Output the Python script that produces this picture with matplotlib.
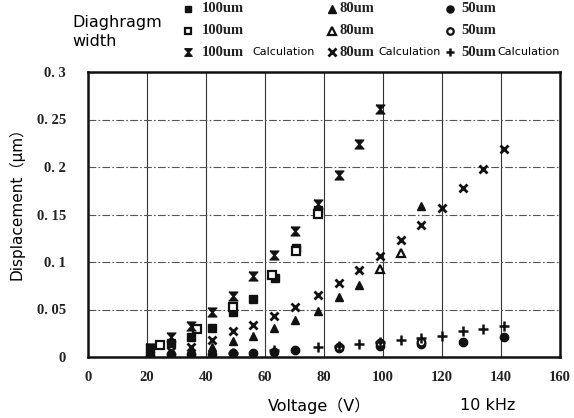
import numpy as np
import matplotlib
matplotlib.use("Agg")
import matplotlib.pyplot as plt
from matplotlib.lines import Line2D

# 100um, measurement 1 (filled square)
v_100a = [21, 28, 35, 42, 49, 56, 63.5, 70.5, 78]
d_100a = [0.009, 0.015, 0.021, 0.031, 0.047, 0.061, 0.083, 0.115, 0.155]
# 100um, measurement 2 (open square)
v_100b = [24.5, 37, 49, 62.5, 70.5, 78]
d_100b = [0.013, 0.030, 0.053, 0.086, 0.112, 0.151]
# 100um calculation
v_100c = [21, 28, 35, 42, 49, 56, 63, 70, 78, 85, 92, 99]
d_100c = [0.010, 0.021, 0.033, 0.047, 0.064, 0.085, 0.107, 0.133, 0.161, 0.192, 0.224, 0.261]

# 80um, measurement 1 (filled triangle)
v_80a = [28, 35, 42, 49, 56, 63, 70, 78, 85, 92, 113]
d_80a = [0.004, 0.007, 0.011, 0.017, 0.022, 0.031, 0.039, 0.048, 0.063, 0.076, 0.159]
# 80um, measurement 2 (open triangle)
v_80b = [99, 106]
d_80b = [0.093, 0.110]
# 80um calculation
v_80c = [28, 35, 42, 49, 56, 63, 70, 78, 85, 92, 99, 106, 113, 120, 127, 134, 141]
d_80c = [0.006, 0.011, 0.018, 0.027, 0.034, 0.043, 0.053, 0.065, 0.078, 0.092, 0.106,
         0.123, 0.139, 0.157, 0.178, 0.198, 0.219]

# 50um, measurement 1 (filled circle)
v_50a = [21, 28, 35, 42, 49, 56, 63, 70, 85, 99, 113, 127, 141]
d_50a = [0.002, 0.003, 0.003, 0.003, 0.004, 0.004, 0.005, 0.007, 0.009, 0.012, 0.014, 0.016, 0.021]
# 50um, measurement 2 (open circle)
v_50b = [85, 99, 113]
d_50b = [0.011, 0.015, 0.016]
# 50um calculation
v_50c = [49, 63, 78, 85, 92, 99, 106, 113, 120, 127, 134, 141]
d_50c = [0.004, 0.007, 0.011, 0.012, 0.014, 0.016, 0.018, 0.020, 0.022, 0.027, 0.029, 0.033]

x_ticks = [0, 20, 40, 60, 80, 100, 120, 140, 160]
y_ticks = [0, 0.05, 0.1, 0.15, 0.2, 0.25, 0.3]
y_tick_labels = ['0', '0. 05', '0. 1', '0. 15', '0. 2', '0. 25', '0. 3']

W, H = 574, 418
hourglass = [(-1, 1), (1, 1), (0.12, 0), (1, -1), (-1, -1), (-0.12, 0), (-1, 1)]
ink = '#111111'

styles = {
    '100a': dict(marker='s', ms=5.5, mfc=ink, mec=ink, mew=1),
    '100b': dict(marker='s', ms=5.5, mfc='white', mec=ink, mew=1.6),
    '100c': dict(marker=hourglass, ms=6.5, mfc=ink, mec=ink, mew=0.8),
    '80a': dict(marker='^', ms=6, mfc=ink, mec=ink, mew=1),
    '80b': dict(marker='^', ms=6, mfc='white', mec=ink, mew=1.6),
    '80c': dict(marker='x', ms=6, mec=ink, mew=2),
    '50a': dict(marker='o', ms=6, mfc=ink, mec=ink, mew=1),
    '50b': dict(marker='o', ms=5.5, mfc='white', mec=ink, mew=1.6),
    '50c': dict(marker='+', ms=7, mec=ink, mew=1.8),
}

fig = plt.figure(figsize=(W / 100, H / 100), dpi=100)
ax = fig.add_axes([88 / W, 1 - 357 / H, (560 - 88) / W, (357 - 72) / H])

series = [(v_100a, d_100a, '100a'), (v_100b, d_100b, '100b'), (v_100c, d_100c, '100c'),
          (v_80a, d_80a, '80a'), (v_80b, d_80b, '80b'), (v_80c, d_80c, '80c'),
          (v_50a, d_50a, '50a'), (v_50b, d_50b, '50b'), (v_50c, d_50c, '50c')]
for v, d, key in series:
    ax.plot(v, d, linestyle='none', zorder=3, **styles[key])

ax.set_xlim(0, 160)
ax.set_ylim(0, 0.3)
ax.set_xticks(x_ticks)
ax.set_yticks(y_ticks)
ax.set_yticklabels(y_tick_labels)
ax.tick_params(length=0)
ax.tick_params(axis='y', pad=16)
ax.tick_params(axis='x', pad=10)
for lab in ax.get_xticklabels() + ax.get_yticklabels():
    lab.set_fontfamily('Liberation Serif')
    lab.set_fontweight('bold')
    lab.set_fontsize(10.5)
    lab.set_color('#222222')

ax.yaxis.grid(True, color='#555555', linestyle=(0, (7, 2, 1.5, 2)), linewidth=0.8)
ax.xaxis.grid(True, color='#333333', linestyle='-', linewidth=0.8)
ax.set_axisbelow(True)
for s in ax.spines.values():
    s.set_linewidth(1.8)
    s.set_color(ink)

fig.text(16 / W, 1 - 200 / H, 'Displacement（μm）', rotation=90, ha='center', va='center',
         fontsize=11, family=['DejaVu Sans', 'Noto Sans CJK JP'])
fig.text(320 / W, 1 - 406 / H, 'Voltage（V）', ha='center', va='center',
         fontsize=11.5, family=['DejaVu Sans', 'Noto Sans CJK JP'])
fig.text(488 / W, 1 - 406 / H, '10 kHz', ha='center', va='center', fontsize=11.5)

# legend block at the top
fig.text(72 / W, 1 - 32 / H, 'Diaghragm\nwidth', ha='left', va='center',
         fontsize=11.5, linespacing=1.25)
cols = [(188, 202, ['100a', '100b', '100c'], '100um', 252),
        (332, 340, ['80a', '80b', '80c'], '80um', 378),
        (450, 461, ['50a', '50b', '50c'], '50um', 497)]
rows = [9, 31, 52]
for mx, tx, keys, name, cx in cols:
    for ry, key in zip(rows, keys):
        st = dict(styles[key])
        st['ms'] = st['ms'] * 0.85
        fig.add_artist(Line2D([mx / W], [1 - ry / H], linestyle='none',
                              transform=fig.transFigure, **st))
        fig.text(tx / W, 1 - ry / H, name, ha='left', va='center', fontsize=10.5,
                 family='Liberation Serif', fontweight='bold', color='#222222')
    fig.text(cx / W, 1 - rows[2] / H, 'Calculation', ha='left', va='center', fontsize=8)

fig.savefig('out.png', dpi=100)
